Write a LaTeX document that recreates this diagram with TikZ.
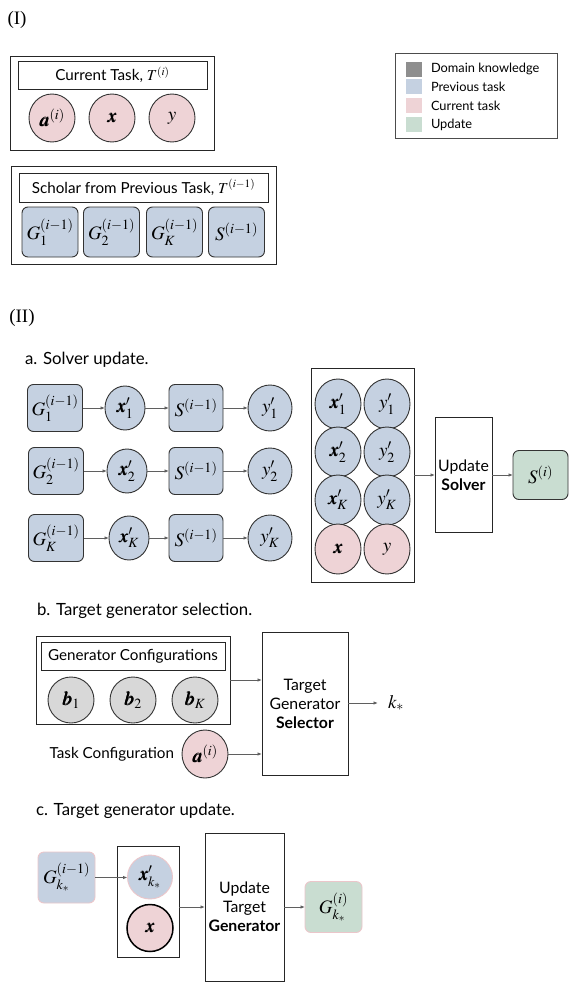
\documentclass[tikz,border=0pt]{standalone}
\usepackage{amsmath}
\usepackage{mathptmx}
\usepackage{bm}
\usepackage[no-math]{fontspec}
\setmainfont{Liberation Serif}
\setsansfont{Lato}
\usetikzlibrary{arrows.meta,shapes.geometric}
\definecolor{blueF}{HTML}{C5D1E1}
\definecolor{pinkF}{HTML}{EED3D6}
\definecolor{greenF}{HTML}{C9DDD1}
\definecolor{grayF}{HTML}{D8D8D8}
\definecolor{darkF}{HTML}{8E8E8E}
\definecolor{arrowgray}{HTML}{5F5F5F}
\definecolor{pinkB}{HTML}{EBC6CA}
\newcommand{\mathsz}{\fontsize{19}{21}\selectfont}
\newcommand{\titlesz}{\sffamily\fontsize{15.2}{18}\selectfont}
\newcommand{\headsz}{\sffamily\fontsize{16.8}{19}\selectfont}
\newcommand{\boxsz}{\sffamily\fontsize{15.8}{19}\selectfont}
\begin{document}
\begin{tikzpicture}[x=1pt,y=-1pt,
  every node/.style={inner sep=0pt,outer sep=0pt},
  frame/.style={draw=black!85,line width=0.9pt,rectangle},
  rbox/.style={draw=black!80,line width=0.9pt,rounded corners=6pt,fill=blueF,minimum width=56pt,minimum height=50pt,font=\mathsz},
  circ/.style={ellipse,draw=black!80,line width=0.9pt,font=\mathsz},
  swatch/.style={minimum width=16pt,minimum height=15pt},
  legtxt/.style={anchor=west,font=\sffamily\fontsize{12.8}{14}\selectfont},
  arr/.style={draw=arrowgray,line width=0.9pt,-{Latex[length=4.5pt,width=3.5pt]}}
]
\useasboundingbox (0,0) rectangle (582,995);
\fill[white] (0,0) rectangle (582,995);

% ---------- (I)
\node[font=\fontsize{19}{21}\selectfont] (lI) at (17,20) {(I)};
\node[frame,minimum width=204pt,minimum height=94pt] (box1) at (112,103) {};
\node[frame,minimum width=189pt,minimum height=28pt,font=\titlesz] (title1) at (112.5,75) {Current Task, $T^{(i)}$};
\node[circ,fill=pinkF,minimum width=46pt,minimum height=48pt] (ca) at (52,118) {$\bm{a}^{(i)}$};
\node[circ,fill=pinkF,minimum width=46pt,minimum height=48pt] (cx) at (112,118) {$\bm{x}$};
\node[circ,fill=pinkF,minimum width=46pt,minimum height=48pt] (cy) at (172,118) {$y$};

\node[frame,minimum width=265pt,minimum height=98pt] (box2) at (143.5,215) {};
\node[frame,minimum width=249pt,minimum height=29pt,font=\titlesz] (title2) at (143.5,187.5) {Scholar from Previous Task, $T^{(i-1)}$};
\node[rbox] (pg1) at (50,232) {$G_1^{(i-1)}$};
\node[rbox] (pg2) at (111.5,232) {$G_2^{(i-1)}$};
\node[rbox] (pgk) at (174.5,232) {$G_K^{(i-1)}$};
\node[rbox] (ps) at (236.5,232) {$S^{(i-1)}$};

% ---------- legend
\node[draw=black!70,line width=0.7pt,minimum width=162pt,minimum height=85pt] (legend) at (476,95.5) {};
\node[swatch,fill=darkF] (sw1) at (414,69.5) {};
\node[swatch,fill=blueF] (sw2) at (414,86.5) {};
\node[swatch,fill=pinkF] (sw3) at (414,105.5) {};
\node[swatch,fill=greenF] (sw4) at (414,124.5) {};
\node[legtxt] (lt1) at (431,69) {Domain knowledge};
\node[legtxt] (lt2) at (431,87) {Previous task};
\node[legtxt] (lt3) at (431,106) {Current task};
\node[legtxt] (lt4) at (431,125) {Update};

% ---------- (II)
\node[font=\fontsize{19}{21}\selectfont] (lII) at (22,318) {(II)};
\node[anchor=west,font=\headsz] (ta) at (25,360) {a. Solver update.};

\node[rbox,minimum width=55pt,minimum height=47pt] (g1) at (55,408) {$G_1^{(i-1)}$};
\node[rbox,minimum width=55pt,minimum height=47pt] (g2) at (56,471) {$G_2^{(i-1)}$};
\node[rbox,minimum width=55pt,minimum height=47pt] (gk) at (56,538) {$G_K^{(i-1)}$};
\node[circ,fill=blueF,minimum width=40pt,minimum height=44pt] (x1) at (125,408) {$\bm{x}_1'$};
\node[circ,fill=blueF,minimum width=40pt,minimum height=44pt] (x2) at (127,471) {$\bm{x}_2'$};
\node[circ,fill=blueF,minimum width=40pt,minimum height=44pt] (xk) at (129,538) {$\bm{x}_K'$};
\node[rbox,minimum width=54pt,minimum height=47pt] (s1) at (196,408) {$S^{(i-1)}$};
\node[rbox,minimum width=54pt,minimum height=47pt] (s2) at (196,471) {$S^{(i-1)}$};
\node[rbox,minimum width=54pt,minimum height=47pt] (sk) at (196,538) {$S^{(i-1)}$};
\node[circ,fill=blueF,minimum width=44pt,minimum height=46pt] (y1) at (270,408) {$y_1'$};
\node[circ,fill=blueF,minimum width=44pt,minimum height=46pt] (y2) at (270,471) {$y_2'$};
\node[circ,fill=blueF,minimum width=44pt,minimum height=46pt] (yk) at (270,538) {$y_K'$};
\foreach \r in {1,2,k}{
  \draw[arr] (g\r) -- (x\r);
  \draw[arr] (x\r) -- (s\r);
  \draw[arr] (s\r) -- (y\r);
}

\node[frame,minimum width=103pt,minimum height=214pt] (big) at (362.5,475) {};
\node[circ,fill=blueF,minimum width=46pt,minimum height=50pt] (bx1) at (338,404) {$\bm{x}_1'$};
\node[circ,fill=blueF,minimum width=46pt,minimum height=50pt] (by1) at (387,404) {$y_1'$};
\node[circ,fill=blueF,minimum width=46pt,minimum height=50pt] (bx2) at (338,452) {$\bm{x}_2'$};
\node[circ,fill=blueF,minimum width=46pt,minimum height=50pt] (by2) at (387,452) {$y_2'$};
\node[circ,fill=blueF,minimum width=46pt,minimum height=50pt] (bxk) at (338,500) {$\bm{x}_K'$};
\node[circ,fill=blueF,minimum width=46pt,minimum height=50pt] (byk) at (387,500) {$y_K'$};
\node[circ,fill=pinkF,minimum width=46pt,minimum height=50pt] (bx) at (338,549) {$\bm{x}$};
\node[circ,fill=pinkF,minimum width=46pt,minimum height=50pt] (by) at (387,549) {$y$};

\node[frame,minimum width=57pt,minimum height=115pt,align=center,font=\boxsz] (upds) at (463.5,475) {Update\\\textbf{Solver}};
\node[rbox,fill=greenF,minimum width=55pt,minimum height=49pt] (sout) at (540.5,475) {$S^{(i)}$};
\draw[arr] (big) -- (upds);
\draw[arr] (upds) -- (sout);

% ---------- b
\node[anchor=west,font=\headsz] (tb) at (37,611) {b. Target generator selection.};
\node[frame,minimum width=194pt,minimum height=88pt] (boxb) at (133,680) {};
\node[frame,minimum width=184pt,minimum height=28pt,font=\titlesz] (titleb) at (133,656) {Generator Configurations};
\node[circ,fill=grayF,minimum width=46pt,minimum height=46pt] (b1) at (71,700) {$\bm{b}_1$};
\node[circ,fill=grayF,minimum width=46pt,minimum height=46pt] (b2) at (133,700) {$\bm{b}_2$};
\node[circ,fill=grayF,minimum width=46pt,minimum height=46pt] (bk) at (195,700) {$\bm{b}_K$};
\node[anchor=east,font=\titlesz] (tc) at (174,754) {Task Configuration};
\node[circ,fill=pinkF,minimum width=46pt,minimum height=48pt] (ai) at (205,754) {$\bm{a}^{(i)}$};
\node[frame,minimum width=86pt,minimum height=143pt,align=center,font=\boxsz] (sel) at (305,703.5) {Target\\Generator\\\textbf{Selector}};
\node[anchor=west,font=\mathsz] (kstar) at (388,703) {$k_*$};
\draw[arr] (boxb.east) -- (boxb.east -| sel.west);
\draw[arr] (ai.east) -- (ai.east -| sel.west);
\draw[arr] (sel.east |- kstar.west) -- ([xshift=-10pt]kstar.west);

% ---------- c
\node[anchor=west,font=\headsz] (tcc) at (36,811) {c. Target generator update.};
\node[rbox,draw=pinkB,minimum width=57pt,minimum height=51pt] (gprev) at (66.5,877.5) {$G_{k_*}^{(i-1)}$};
\node[frame,minimum width=62pt,minimum height=111pt] (innerc) at (148,901.5) {};
\node[circ,draw=pinkB,fill=blueF,minimum width=45pt,minimum height=44pt] (xpk) at (150,877) {$\bm{x}_{k_*}'$};
\node[circ,line width=1.5pt,draw=black,fill=pinkF,minimum width=46pt,minimum height=47pt] (xc) at (150,928) {$\bm{x}$};
\node[frame,minimum width=79pt,minimum height=148pt,align=center,font=\boxsz] (updg) at (244.5,907) {Update\\Target\\\textbf{Generator}};
\node[rbox,draw=pinkB,fill=greenF,minimum width=57pt,minimum height=51pt] (gnew) at (333.5,907) {$G_{k_*}^{(i)}$};
\draw[arr] (gprev.east) -- (gprev.east -| xpk.west);
\draw[arr] (innerc.east |- updg.west) -- (updg.west);
\draw[arr] (updg) -- (gnew);
\end{tikzpicture}
\end{document}
